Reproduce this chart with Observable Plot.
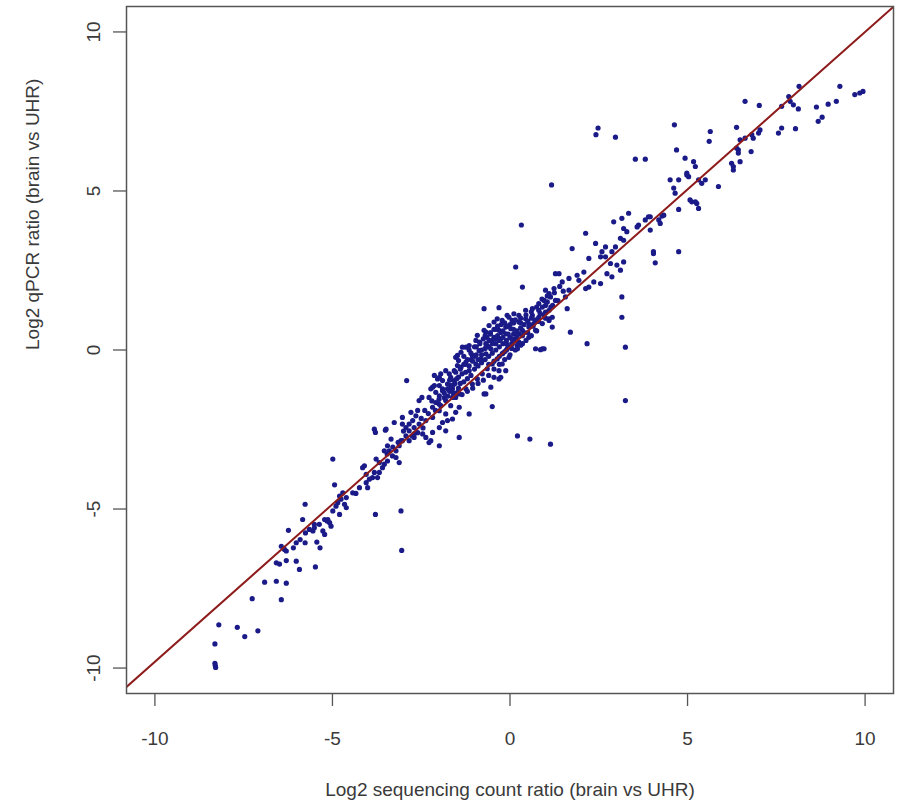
<!DOCTYPE html>
<html>
<head>
<meta charset="utf-8">
<script src="https://cdn.jsdelivr.net/npm/d3@7"></script>
<script src="https://cdn.jsdelivr.net/npm/@observablehq/plot@0.6"></script>
<style>
  body { margin: 0; background: #ffffff; }
</style>
</head>
<body>
<div id="chart"></div>
<script>
// Log2 ratios, brain vs UHR: sequencing counts (x) against qPCR (y), one entry per gene.
const seqRatio = [
  // low tail
  -5.77,-5.84,-6.24,-5.76,-5.91,-5.77,-5.27,-5.22,-5.15,-5.44,-5.35,-6.44,-6.35,-6.10,-6.58,-6.49,-6.30,-6.02,-5.93,-5.48,
  -6.91,-6.58,-6.30,-7.26,-6.44,-8.20,-7.68,-7.47,-7.10,-8.31,-8.31,-8.29,-8.30,-6.30,-6.02,-5.65,-5.51,
  // lower band
  -2.91,-2.56,-2.48,-3.82,-3.79,-3.51,-3.35,-4.99,-4.15,-4.10,-3.77,-3.73,-3.82,-4.01,-4.34,-4.94,-4.80,-4.85,-4.66,-4.61,
  -4.80,-3.79,-3.07,-5.22,-5.08,-5.04,-3.12,-3.54,-3.46,-1.99,-2.23,-2.13,-1.81,-1.71,-1.53,-1.43,-3.05,
  -2.28,-2.18,-2.09,-1.99,-1.90,-1.76,-1.67,-1.57,-1.90,-1.99,-2.09,-1.81,-1.67,-1.53,-1.62,-1.81,-1.99,-2.18,-2.37,-2.56,
  -2.70,-2.84,-2.93,-3.03,-3.12,-3.21,-3.31,-3.45,-3.59,-3.68,-3.87,-4.05,-4.24,-4.43,-4.61,-2.74,-2.65,-2.84,-2.93,-3.03,
  -2.46,-2.37,-2.23,-3.07,-2.84,-2.70,-3.21,-3.40,-3.45,-3.68,-3.54,-4.05,-3.96,-4.71,-4.76,-5.13,-5.37,-5.51,-5.55,-4.90,
  -4.99,-1.43,-1.48,-1.53,-1.62,-1.95,-2.04,-2.13,-1.57,-1.48,-1.45,-2.18,-1.99,-1.81,-1.76,-1.90,-3.26,-3.03,-2.79,-2.28,-3.49,
  // centre
  0.16,0.35,1.28,-0.73,-0.31,-0.08,-0.68,-1.34,-1.48,0.96,-0.26,-0.31,-1.99,-2.18,-0.73,
  -1.38,-1.24,-1.15,-0.96,-0.92,-0.73,-0.59,-0.45,-0.36,-0.22,-0.03,0.11,0.25,0.44,0.63,0.81,0.96,1.10,1.24,1.14,
  1.28,1.00,0.81,0.67,0.53,0.35,0.25,0.16,0.06,-0.08,-0.22,-0.36,-0.50,-0.64,-0.78,-0.92,-1.06,-1.24,-1.43,-1.62,
  -1.15,-0.96,-0.82,-0.68,-0.54,-0.40,-0.26,-0.12,0.02,-0.68,-0.87,-1.06,-1.24,-1.38,-1.53,-1.67,-1.76,-1.90,
  0.06,-0.12,-0.31,-0.45,-0.59,0.25,0.44,0.63,1.00,0.72,0.91,1.10,0.53,0.35,0.21,-0.03,0.72,0.91,-0.22,-0.31,-0.45,-0.12,-0.54,-0.68,
  -1.30,-1.20,-1.10,-1.00,-0.90,-0.80,-0.70,-0.60,-0.50,-0.40,-0.30,-0.20,-0.10,0.00,0.10,0.20,0.30,0.40,0.50,0.60,
  -1.40,-1.25,-1.10,-0.95,-0.80,-0.65,-0.50,-0.35,-0.20,-0.05,0.10,0.30,
  -1.05,-0.90,-0.75,-0.60,-0.45,-0.30,-0.15,0.00,0.15,0.30,0.45,0.60,0.75,
  -0.55,-0.40,-0.25,-0.70,-0.85,-1.00,-1.15,-1.30,
  -0.15,-0.05,0.05,0.15,0.25,0.35,0.50,0.65,0.80,0.95,1.10,1.20,
  -0.60,-0.45,-0.30,-0.20,-0.10,0.05,0.20,
  -1.60,-1.50,-1.70,-1.85,-2.00,-1.45,-1.35,-1.20,
  -2.40,-2.30,-2.20,-2.10,-2.00,-1.95,-1.85,-1.75,-1.70,-1.60,-1.55,-1.45,-1.40,-1.35,-1.30,-1.25,-1.20,-1.15,-1.10,-1.05,
  -1.00,-0.95,-0.90,-0.85,-0.80,-0.75,-0.70,-0.65,-0.60,-0.55,-0.50,-0.45,-0.40,-0.35,-0.30,-0.25,-0.20,-0.15,-0.10,-0.05,
  0.00,0.05,0.10,0.15,0.20,0.30,0.40,0.45,0.55,0.60,0.70,0.75,0.85,0.90,1.00,1.05,1.15,1.25,1.35,1.40,1.50,
  -2.60,-2.50,-2.45,-2.60,-2.75,-3.00,-3.15,-3.30,
  // upper band
  3.53,3.81,1.17,4.69,4.93,5.17,5.22,4.51,4.75,4.98,4.61,4.65,5.12,5.26,4.75,4.75,4.04,4.09,4.33,4.19,
  3.95,3.81,3.62,3.58,3.34,3.15,2.92,3.20,3.29,3.11,3.20,2.97,2.69,2.41,2.13,1.75,2.22,2.55,2.59,2.83,
  3.01,2.73,2.55,3.15,3.15,3.25,3.25,1.70,2.17,1.14,1.47,1.66,1.89,2.08,2.22,1.66,1.56,1.61,1.00,1.19,
  1.19,1.10,0.86,1.05,0.91,0.81,0.21,0.56,-1.15,-0.50,-2.70,1.38,1.94,2.13,2.36,2.87,3.11,3.20,2.87,2.69,
  // upper tail
  8.14,9.29,9.71,9.85,9.94,9.19,8.96,8.63,7.85,7.89,7.98,8.12,7.65,6.62,7.02,8.68,8.79,8.04,7.56,7.65,
  6.38,5.64,5.61,6.62,6.85,7.04,6.43,6.43,6.79,6.24,6.29,6.29,6.48,5.87,5.50,5.40,5.03,4.98,5.07,5.22,
  5.31,2.48,2.42,2.97,0.32,4.63,3.90,4.23,3.95,4.04,6.81,7.00,6.48,6.38,5.31,4.28
];

const qpcrRatio = [
  // low tail
  -4.85,-5.33,-5.67,-5.75,-5.96,-6.06,-5.69,-5.80,-5.38,-6.04,-6.22,-6.17,-6.27,-6.22,-6.69,-6.73,-6.62,-6.64,-6.90,-6.82,
  -7.30,-7.27,-7.33,-7.82,-7.85,-8.64,-8.72,-9.01,-8.83,-9.24,-9.85,-9.98,-9.92,-6.32,-6.06,-5.64,-5.48,
  // lower band
  -0.96,-1.59,-1.49,-2.49,-2.59,-2.52,-2.80,-3.43,-3.70,-3.64,-3.43,-4.01,-3.85,-4.33,-4.51,-4.24,-4.59,-4.80,-4.85,-4.96,
  -5.17,-5.17,-5.06,-5.33,-5.43,-5.54,-3.54,-3.17,-3.27,-3.01,-1.22,-1.12,-0.65,-0.75,-0.23,-2.75,-6.30,
  -1.49,-1.80,-1.65,-1.44,-1.28,-1.22,-1.12,-0.96,-0.96,-1.12,-1.33,-1.59,-1.75,-1.96,-2.17,-2.01,-1.91,-2.12,-2.22,-2.33,
  -2.44,-2.54,-2.70,-2.85,-3.01,-3.17,-3.33,-3.49,-3.70,-3.85,-4.01,-4.17,-4.33,-4.49,-4.64,-2.22,-2.07,-2.33,-2.44,-2.33,
  -2.64,-2.75,-2.85,-2.85,-2.85,-2.75,-3.38,-3.17,-3.01,-3.54,-3.59,-3.91,-4.06,-4.49,-4.69,-5.33,-5.48,-5.59,-5.69,-4.91,
  -5.06,-1.80,-1.33,-1.49,-1.22,-0.75,-0.91,-0.80,-0.65,-0.49,-0.33,-2.59,-2.44,-2.54,-2.22,-2.28,-2.28,-2.12,-1.96,-2.91,-2.49,
  // centre
  2.61,1.98,2.40,1.30,1.33,1.09,0.56,0.09,-0.17,0.04,-0.86,-0.91,-0.86,-1.17,-1.38,
  -0.07,0.09,0.14,0.30,0.46,0.62,0.77,0.88,0.98,0.93,1.03,1.14,1.09,1.25,1.30,1.46,1.56,1.77,1.93,1.67,
  1.56,1.19,1.03,0.83,0.72,0.62,0.51,0.35,0.20,0.04,-0.12,-0.28,-0.44,-0.59,-0.75,-0.91,-1.07,-1.22,-1.38,-1.49,
  -0.65,-0.44,-0.28,-0.12,0.04,0.20,0.35,0.51,0.67,0.20,-0.02,-0.17,-0.38,-0.54,-0.70,-0.86,-1.07,-1.22,
  0.93,0.72,0.62,0.40,0.30,0.88,0.98,1.09,1.40,0.62,0.83,0.98,0.40,0.20,0.04,-0.23,0.04,0.04,-0.44,-0.65,-0.86,-0.65,-1.17,-1.38,
  -1.00,-0.90,-0.80,-0.60,-0.50,-0.40,-0.30,-0.20,-0.10,0.00,0.10,0.20,0.30,0.40,0.50,0.60,0.70,0.80,0.90,1.00,
  -0.60,-0.45,-0.30,-0.15,0.00,0.15,0.30,0.45,0.60,0.75,0.85,1.00,
  -1.20,-1.05,-0.95,-0.80,-0.60,-0.45,-0.30,-0.15,0.00,0.15,0.30,0.45,0.60,
  0.50,0.65,0.80,0.45,0.25,0.10,0.00,-0.20,
  -0.05,0.10,0.20,0.30,0.25,0.45,0.55,0.75,0.90,1.10,1.25,1.40,
  -0.45,-0.35,-0.20,-0.10,0.00,0.05,0.15,
  -1.10,-0.90,-1.30,-1.50,-1.70,-1.20,-1.40,-1.30,
  -1.90,-2.00,-1.60,-1.90,-1.55,-1.75,-1.35,-1.45,-0.95,-1.35,-1.05,-0.85,-1.05,-0.75,-0.45,-0.70,-0.30,-0.50,-0.10,-0.35,
  -0.20,0.10,-0.30,0.20,-0.15,0.35,0.05,0.40,0.10,0.55,0.20,0.65,0.35,0.75,0.30,0.55,0.40,0.85,0.20,0.50,
  0.80,0.35,0.65,0.95,0.45,0.85,0.55,1.10,0.80,1.20,0.95,1.35,1.15,1.60,1.00,1.70,1.35,1.80,1.55,2.00,1.85,
  -2.60,-2.15,-2.45,-1.90,-2.70,-2.55,-2.90,-3.05,
  // upper band
  6.00,6.00,5.19,6.29,6.03,5.92,5.77,5.35,5.35,5.50,5.09,4.93,4.66,4.61,4.42,3.09,3.09,2.74,4.24,4.09,
  4.19,4.09,3.93,3.87,4.30,4.14,4.03,3.82,3.72,3.51,3.45,3.24,3.24,3.35,3.67,3.19,2.88,2.93,3.09,2.72,
  2.67,2.40,2.09,1.67,1.03,0.09,-1.59,0.56,0.20,-2.96,2.14,2.25,2.35,2.45,1.98,1.88,1.67,1.30,1.88,1.03,
  0.72,0.93,0.01,1.51,1.35,1.25,-2.70,-2.80,-2.01,-1.78,-2.64,2.40,2.19,1.93,2.14,2.30,2.51,2.77,3.09,2.93,
  // upper tail
  8.29,8.29,8.03,8.08,8.13,7.82,7.73,7.64,7.97,7.82,7.71,7.58,7.66,7.82,7.69,7.19,7.32,6.96,6.82,6.98,
  7.00,6.87,6.56,6.66,6.66,6.92,6.29,6.19,6.24,5.87,5.77,5.66,5.92,5.14,5.35,5.24,5.45,5.56,4.72,4.66,
  4.45,6.98,6.77,6.69,3.93,7.08,4.19,3.98,3.77,3.03,6.77,6.82,6.61,6.35,5.35,4.21
];

const xTicks = [-10, -5, 0, 5, 10];
const yTicks = [-10, -5, 0, 5, 10];
const axisDomain = [-10.8, 10.8];

// Fitted line, qPCR ratio = intercept + slope * sequencing ratio
const fitIntercept = 0.1;
const fitSlope = 0.99;

const xTitle = "Log2 sequencing count ratio (brain vs UHR)";
const yTitle = "Log2 qPCR ratio (brain vs UHR)";

const points = seqRatio.map((x, i) => ({x, y: qpcrRatio[i]}));
const fitLine = axisDomain.map(x => ({x, y: fitIntercept + fitSlope * x}));

const textColor = "#3a3a3a";
const axisColor = "#555555";
const fontSize = 19;
// plain hyphen-minus for negative tick labels
const tickLabel = d => String(d);

const chart = Plot.plot({
  width: 898,
  height: 808,
  marginLeft: 126,
  marginRight: 5,
  marginTop: 6,
  marginBottom: 115,
  style: {
    fontFamily: "'Liberation Sans', Arial, sans-serif",
    fontSize: `${fontSize}px`,
    color: textColor,
    background: "#ffffff"
  },
  x: {domain: axisDomain},
  y: {domain: axisDomain},
  marks: [
    Plot.axisX({ticks: xTicks, tickFormat: tickLabel, tickSize: 13, tickPadding: 25, stroke: axisColor, strokeWidth: 1.3, fill: textColor, fontSize, label: null}),
    Plot.axisY({ticks: yTicks, tickFormat: tickLabel, tickSize: 13, tickPadding: 14, tickRotate: -90, stroke: axisColor, strokeWidth: 1.3, fill: textColor, fontSize, label: null}),
    Plot.dot(points, {x: "x", y: "y", r: 2.6, fill: "#1a1a88"}),
    Plot.line(fitLine, {x: "x", y: "y", stroke: "#8e1c1c", strokeWidth: 2, clip: true}),
    Plot.frame({stroke: axisColor, strokeWidth: 1.5}),
    Plot.text([xTitle], {frameAnchor: "bottom", dy: 102, text: d => d, fill: textColor, fontSize}),
    Plot.text([yTitle], {frameAnchor: "left", dx: -94, rotate: -90, text: d => d, fill: textColor, fontSize})
  ]
});

document.getElementById("chart").appendChild(chart);
</script>
</body>
</html>
